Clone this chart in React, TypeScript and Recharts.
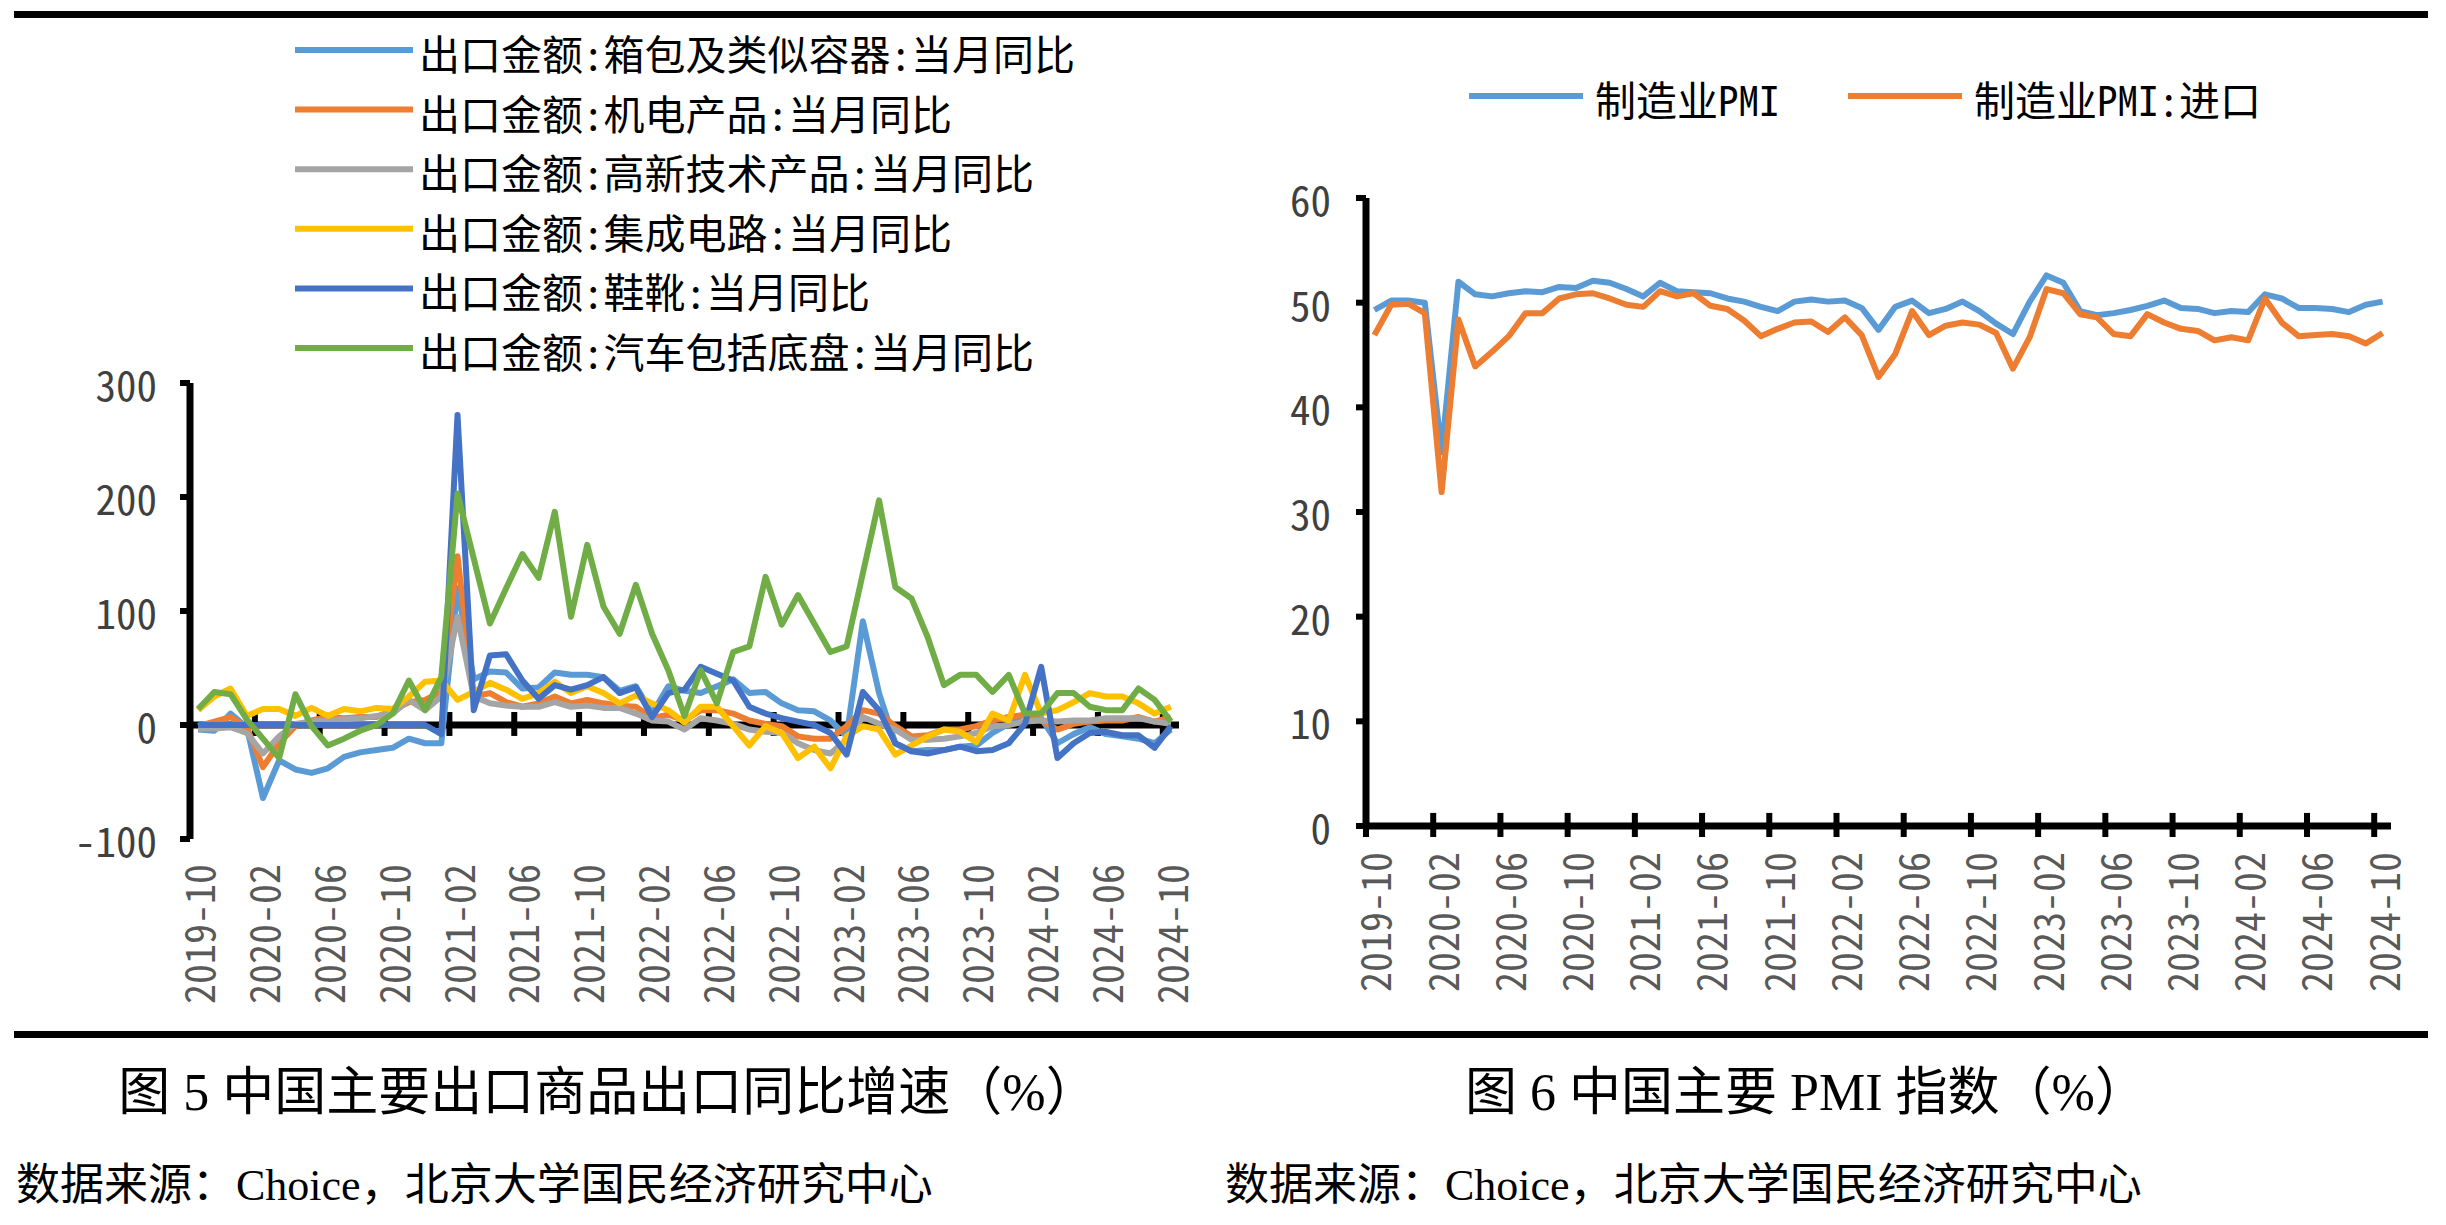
import React from "react";
import { LineChart, Line, XAxis, YAxis, ReferenceLine } from "recharts";

const CJK = '"Noto Sans CJK SC", "Noto Sans", sans-serif';
const SERIF = '"Liberation Serif", "Noto Sans CJK SC", serif';
const HALF = { fontFeatureSettings: '"hwid"' };

// months on both charts
const months = [
  "2019-10", "2019-11", "2019-12",
  "2020-01", "2020-02", "2020-03", "2020-04", "2020-05", "2020-06", "2020-07", "2020-08", "2020-09", "2020-10", "2020-11", "2020-12",
  "2021-01", "2021-02", "2021-03", "2021-04", "2021-05", "2021-06", "2021-07", "2021-08", "2021-09", "2021-10", "2021-11", "2021-12",
  "2022-01", "2022-02", "2022-03", "2022-04", "2022-05", "2022-06", "2022-07", "2022-08", "2022-09", "2022-10", "2022-11", "2022-12",
  "2023-01", "2023-02", "2023-03", "2023-04", "2023-05", "2023-06", "2023-07", "2023-08", "2023-09", "2023-10", "2023-11", "2023-12",
  "2024-01", "2024-02", "2024-03", "2024-04", "2024-05", "2024-06", "2024-07", "2024-08", "2024-09", "2024-10",
];

const tickLabels = [
  "2019-10", "2020-02", "2020-06", "2020-10", "2021-02", "2021-06", "2021-10", "2022-02",
  "2022-06", "2022-10", "2023-02", "2023-06", "2023-10", "2024-02", "2024-06", "2024-10",
];

// 图5 出口金额 当月同比 (%)
const bags = [
  -4, -5, 10, -2, -64, -31, -39, -42, -38, -28, -24, -22, -20, -12, -16, -16, 120, 40, 47, 46,
  32, 33, 46, 44, 44, 42, 30, 34, 10, 34, 30, 28, 34, 40, 28, 29, 19, 13, 12, 4,
  -10, 91, 28, -16, -23, -22, -22, -19, -18, -7, 1, 10, 6, -16, -8, -2, -8, -10, -12, -16, -4,
];
const mech = [
  -1, 3, 7, -2, -37, -16, -1, 4, 7, 6, 7, 7, 13, 20, 22, 29, 148, 25, 28, 20,
  16, 19, 25, 19, 22, 19, 17, 16, 6, 9, 4, 13, 13, 10, 4, 1, -1, -10, -12, -12,
  -1, 13, 10, -1, -10, -9, -4, -4, -1, 4, 7, 9, 4, -4, 1, 3, 4, 4, 7, 3, 7,
];
const hitech = [
  -3, -3, -2, -7, -25, -10, 1, 3, 4, 5, 6, 8, 10, 22, 13, 25, 95, 25, 19, 17,
  16, 16, 20, 16, 17, 15, 15, 10, 4, 3, -4, 6, 4, 1, -4, -6, -7, -16, -22, -25,
  -13, 7, 1, -4, -13, -13, -12, -10, -7, -1, 0, 3, 4, 3, 4, 4, 6, 6, 6, 3, 1,
];
const chips = [
  13, 25, 32, 8, 14, 14, 8, 15, 8, 14, 12, 15, 14, 25, 38, 39, 22, 29, 37, 31,
  23, 28, 38, 28, 34, 28, 19, 26, 19, 13, 2, 16, 16, -1, -18, -1, -7, -29, -19, -38,
  -10, -1, -4, -26, -18, -10, -4, -6, -15, 10, 4, 44, 10, 13, 20, 28, 25, 25, 19, 10, 16,
];
const shoes = [
  0, 0, 0, 0, 0, 0, 0, 0, 0, 0, 0, 0, 0, 0, 0, -8, 272, 13, 61, 62,
  39, 23, 35, 31, 35, 42, 28, 33, 7, 28, 31, 51, 45, 39, 16, 10, 6, 3, 0, -7,
  -26, 29, 13, -16, -23, -25, -22, -19, -23, -22, -16, 1, 51, -29, -16, -7, -6, -9, -9, -20, -1,
];
const autos = [
  14, 29, 27, 5, -12, -29, 27, -1, -18, -12, -5, 0, 10, 39, 13, 42, 203, 146, 89, 120,
  150, 129, 187, 95, 158, 104, 80, 123, 80, 48, 8, 48, 19, 64, 69, 130, 88, 114, 89, 64,
  69, 133, 197, 121, 111, 77, 35, 44, 44, 29, 44, 10, 10, 28, 28, 16, 13, 13, 32, 22, 3,
];

// 图6 PMI
const pmi = [
  49.3, 50.2, 50.2, 50.0, 35.7, 52.0, 50.8, 50.6, 50.9, 51.1, 51.0, 51.5, 51.4, 52.1, 51.9,
  51.3, 50.6, 51.9, 51.1, 51.0, 50.9, 50.4, 50.1, 49.6, 49.2, 50.1, 50.3,
  50.1, 50.2, 49.5, 47.4, 49.6, 50.2, 49.0, 49.4, 50.1, 49.2, 48.0, 47.0,
  50.1, 52.6, 51.9, 49.2, 48.8, 49.0, 49.3, 49.7, 50.2, 49.5, 49.4, 49.0,
  49.2, 49.1, 50.8, 50.4, 49.5, 49.5, 49.4, 49.1, 49.8, 50.1,
];
const pmiImport = [
  46.9, 49.8, 49.9, 49.0, 31.9, 48.4, 43.9, 45.3, 46.8, 49.0, 49.0, 50.4, 50.8, 50.9, 50.4,
  49.8, 49.6, 51.1, 50.6, 50.9, 49.7, 49.4, 48.3, 46.8, 47.5, 48.1, 48.2,
  47.2, 48.6, 46.9, 42.9, 45.1, 49.2, 46.9, 47.8, 48.1, 47.9, 47.1, 43.7,
  46.7, 51.3, 50.9, 48.9, 48.6, 47.0, 46.8, 48.9, 48.1, 47.5, 47.3, 46.4,
  46.7, 46.4, 50.4, 48.1, 46.8, 46.9, 47.0, 46.8, 46.1, 47.1,
];

const exportSeries = [
  { key: "bags", name: "出口金额:箱包及类似容器:当月同比", color: "#5B9BD5", values: bags },
  { key: "mech", name: "出口金额:机电产品:当月同比", color: "#ED7D31", values: mech },
  { key: "hitech", name: "出口金额:高新技术产品:当月同比", color: "#A5A5A5", values: hitech },
  { key: "chips", name: "出口金额:集成电路:当月同比", color: "#FFC000", values: chips },
  { key: "shoes", name: "出口金额:鞋靴:当月同比", color: "#4472C4", values: shoes },
  { key: "autos", name: "出口金额:汽车包括底盘:当月同比", color: "#70AD47", values: autos },
];

const pmiSeries = [
  { key: "pmi", name: "制造业PMI", color: "#5B9BD5", values: pmi },
  { key: "imp", name: "制造业PMI:进口", color: "#ED7D31", values: pmiImport },
];

const exportData = months.map((m, i) => {
  const row: Record<string, number | string> = { idx: i, month: m };
  exportSeries.forEach((s) => (row[s.key] = s.values[i]));
  return row;
});
const pmiData = months.map((m, i) => {
  const row: Record<string, number | string> = { idx: i, month: m };
  pmiSeries.forEach((s) => (row[s.key] = s.values[i]));
  return row;
});

const labelTicks = tickLabels.map((l) => months.indexOf(l));
// tick marks sit between categories, half a month before each label
const markTicks = labelTicks.map((i) => i - 0.5);

const XLabel = (gap: number) => (props: any) => {
  const { x, y, payload } = props;
  const ty = y + gap;
  return (
    <text
      x={x}
      y={ty}
      transform={`rotate(-90, ${x}, ${ty})`}
      textAnchor="end"
      dominantBaseline="central"
      fontSize={40}
      fontFamily={CJK}
      fill="#595959"
      style={HALF}
    >
      {months[payload.value]}
    </text>
  );
};

const YLabel = (props: any) => {
  const { x, y, payload } = props;
  return (
    <text x={x} y={y} textAnchor="end" dominantBaseline="central" fontSize={41} fontFamily={CJK} fill="#404040" style={HALF}>
      {payload.value}
    </text>
  );
};

function ExportChart() {
  return (
    <LineChart width={1200} height={1030} data={exportData} margin={{ top: 383, right: 21, bottom: 11, left: 90 }}>
      <XAxis
        dataKey="idx"
        type="number"
        domain={[-0.5, 60.5]}
        ticks={labelTicks}
        axisLine={false}
        tickLine={false}
        tickSize={0}
        tickMargin={0}
        height={180}
        tick={XLabel(25)}
        interval={0}
      />
      <YAxis
        domain={[-100, 300]}
        ticks={[-100, 0, 100, 200, 300]}
        width={100}
        axisLine={{ stroke: "#000", strokeWidth: 7 }}
        tickLine={{ stroke: "#000", strokeWidth: 6 }}
        tickSize={10}
        tickMargin={23}
        tick={YLabel}
        interval={0}
      />
      <ReferenceLine y={0} stroke="#000" strokeWidth={7} />
      {markTicks.map((t) => (
        <ReferenceLine
          key={t}
          segment={[{ x: t, y: -9.6 }, { x: t, y: 11.4 }]}
          stroke="#000"
          strokeWidth={6}
          ifOverflow="visible"
        />
      ))}
      {exportSeries.map((s) => (
        <Line
          key={s.key}
          type="linear"
          dataKey={s.key}
          stroke={s.color}
          strokeWidth={6}
          strokeLinejoin="round"
          dot={false}
          activeDot={false}
          isAnimationActive={false}
        />
      ))}
    </LineChart>
  );
}

function PmiChart() {
  return (
    <LineChart width={1246} height={1030} data={pmiData} margin={{ top: 198, right: 55, bottom: 24, left: 66 }}>
      <XAxis
        dataKey="idx"
        type="number"
        domain={[-0.5, 60.5]}
        ticks={labelTicks}
        axisLine={{ stroke: "#000", strokeWidth: 7 }}
        tickLine={false}
        tickSize={0}
        tickMargin={0}
        height={180}
        tick={XLabel(26)}
        interval={0}
      />
      <YAxis
        domain={[0, 60]}
        ticks={[0, 10, 20, 30, 40, 50, 60]}
        width={100}
        axisLine={{ stroke: "#000", strokeWidth: 7 }}
        tickLine={{ stroke: "#000", strokeWidth: 6 }}
        tickSize={10}
        tickMargin={25}
        tick={YLabel}
        interval={0}
      />
      {markTicks.map((t) => (
        <ReferenceLine
          key={t}
          segment={[{ x: t, y: -1.05 }, { x: t, y: 1.25 }]}
          stroke="#000"
          strokeWidth={6}
          ifOverflow="visible"
        />
      ))}
      {pmiSeries.map((s) => (
        <Line
          key={s.key}
          type="linear"
          dataKey={s.key}
          stroke={s.color}
          strokeWidth={6}
          strokeLinejoin="round"
          dot={false}
          activeDot={false}
          isAnimationActive={false}
        />
      ))}
    </LineChart>
  );
}

export default function App() {
  return (
    <div style={{ position: "absolute", left: 0, top: 0, width: 2446, height: 1225, background: "#fff", overflow: "hidden" }}>
      <div style={{ position: "absolute", left: 0, top: 0 }}>
        <ExportChart />
      </div>
      <div style={{ position: "absolute", left: 1200, top: 0 }}>
        <PmiChart />
      </div>
      <svg width={2446} height={1225} style={{ position: "absolute", left: 0, top: 0, pointerEvents: "none" }}>
        <rect x={14} y={11} width={2414} height={7} fill="#000" />
        <rect x={14} y={1031} width={2414} height={7} fill="#000" />

        {exportSeries.map((s, i) => (
          <g key={s.key}>
            <line x1={295} x2={413} y1={50 + i * 59.6} y2={50 + i * 59.6} stroke={s.color} strokeWidth={6} />
            <text x={419} y={52 + i * 59.6} dominantBaseline="central" fontSize={41} fontFamily={CJK} fill="#000" style={HALF}>
              {s.name}
            </text>
          </g>
        ))}

        {pmiSeries.map((s, i) => {
          const x0 = i === 0 ? 1469 : 1848;
          return (
            <g key={s.key}>
              <line x1={x0} x2={x0 + 114} y1={96} y2={96} stroke={s.color} strokeWidth={6} />
              <text x={x0 + 126} y={98} dominantBaseline="central" fontSize={41} fontFamily={CJK} fill="#000" style={HALF}>
                {s.name}
              </text>
            </g>
          );
        })}

        <text x={608} y={1092} textAnchor="middle" dominantBaseline="central" fontSize={52} fontFamily={SERIF} fill="#000">
          图 5 中国主要出口商品出口同比增速（%）
        </text>
        <text x={1806} y={1092} textAnchor="middle" dominantBaseline="central" fontSize={52} fontFamily={SERIF} fill="#000">
          图 6 中国主要 PMI 指数（%）
        </text>
        <text x={16} y={1185} dominantBaseline="central" fontSize={44} fontFamily={SERIF} fill="#000">
          数据来源：Choice，北京大学国民经济研究中心
        </text>
        <text x={1225} y={1185} dominantBaseline="central" fontSize={44} fontFamily={SERIF} fill="#000">
          数据来源：Choice，北京大学国民经济研究中心
        </text>
      </svg>
    </div>
  );
}
